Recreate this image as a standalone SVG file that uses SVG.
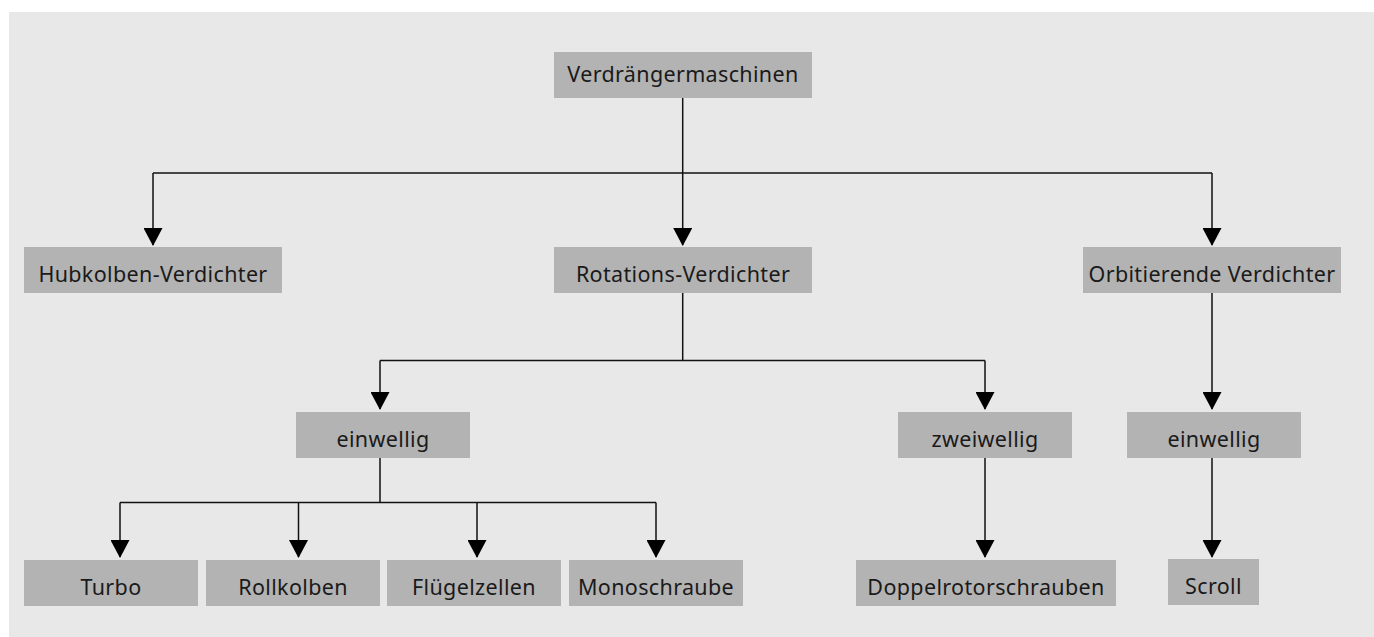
<svg xmlns="http://www.w3.org/2000/svg" width="1374" height="637" viewBox="0 0 1374 637">
  <defs>
    <style>
      .bg { fill: #e8e8e8; }
      .box { fill: #b3b3b3; }
      .lbl { font-family: "Noto Sans", "Liberation Sans", sans-serif; font-size: 21.5px; letter-spacing: 0.35px; fill: #1a1a1a; text-anchor: middle; }
      .wire { fill: none; stroke: #111; stroke-width: 1.5; }
    </style>
    <!-- filled triangle head, tip at the end of the line -->
    <marker id="arrow" viewBox="0 0 18 19" markerWidth="18" markerHeight="19" refX="17" refY="9.5" orient="auto" markerUnits="userSpaceOnUse">
      <path d="M0,0 L18,9.5 L0,19 Z" fill="#000"/>
    </marker>
  </defs>

  <rect class="bg" x="9" y="12" width="1365" height="625"/>

  <!-- connectors -->
  <g id="connectors">
    <path class="wire" d="M682.7,98 V173"/>
    <path class="wire" d="M153,173 H1212"/>
    <path class="wire" d="M153,173 V245" marker-end="url(#arrow)"/>
    <path class="wire" d="M682.7,173 V245" marker-end="url(#arrow)"/>
    <path class="wire" d="M1212,173 V245" marker-end="url(#arrow)"/>

    <path class="wire" d="M682.7,293 V360.5"/>
    <path class="wire" d="M380,360.5 H985"/>
    <path class="wire" d="M380,360.5 V409" marker-end="url(#arrow)"/>
    <path class="wire" d="M985,360.5 V409" marker-end="url(#arrow)"/>
    <path class="wire" d="M1212,293 V409" marker-end="url(#arrow)"/>

    <path class="wire" d="M380,458 V502.5"/>
    <path class="wire" d="M120,502.5 H656"/>
    <path class="wire" d="M120,502.5 V557" marker-end="url(#arrow)"/>
    <path class="wire" d="M298.5,502.5 V557" marker-end="url(#arrow)"/>
    <path class="wire" d="M477,502.5 V557" marker-end="url(#arrow)"/>
    <path class="wire" d="M656,502.5 V557" marker-end="url(#arrow)"/>

    <path class="wire" d="M985,458 V557" marker-end="url(#arrow)"/>
    <path class="wire" d="M1212,458 V557" marker-end="url(#arrow)"/>
  </g>

  <!-- nodes -->
  <g id="verdraengermaschinen">
    <rect class="box" x="554" y="52" width="258" height="46"/>
    <text class="lbl" x="683" y="82">Verdrängermaschinen</text>
  </g>
  <g id="hubkolben">
    <rect class="box" x="24" y="247" width="258" height="46"/>
    <text class="lbl" x="153" y="281.5">Hubkolben-Verdichter</text>
  </g>
  <g id="rotations">
    <rect class="box" x="554" y="247" width="258" height="46"/>
    <text class="lbl" x="683" y="281.5">Rotations-Verdichter</text>
  </g>
  <g id="orbitierende">
    <rect class="box" x="1083" y="247" width="258" height="46"/>
    <text class="lbl" x="1212" y="281.5">Orbitierende Verdichter</text>
  </g>
  <g id="einwellig-rot">
    <rect class="box" x="296" y="412" width="174" height="46"/>
    <text class="lbl" x="383" y="446.5">einwellig</text>
  </g>
  <g id="zweiwellig">
    <rect class="box" x="898" y="412" width="174" height="46"/>
    <text class="lbl" x="985" y="446.5">zweiwellig</text>
  </g>
  <g id="einwellig-orb">
    <rect class="box" x="1127" y="412" width="174" height="46"/>
    <text class="lbl" x="1214" y="446.5">einwellig</text>
  </g>
  <g id="turbo">
    <rect class="box" x="24" y="560" width="174" height="46"/>
    <text class="lbl" x="111" y="594.5">Turbo</text>
  </g>
  <g id="rollkolben">
    <rect class="box" x="206" y="560" width="174" height="46"/>
    <text class="lbl" x="293" y="594.5">Rollkolben</text>
  </g>
  <g id="fluegelzellen">
    <rect class="box" x="387" y="560" width="174" height="46"/>
    <text class="lbl" x="474" y="594.5">Flügelzellen</text>
  </g>
  <g id="monoschraube">
    <rect class="box" x="569" y="560" width="174" height="46"/>
    <text class="lbl" x="656" y="594.5">Monoschraube</text>
  </g>
  <g id="doppelrotorschrauben">
    <rect class="box" x="856" y="560" width="260" height="46"/>
    <text class="lbl" x="986" y="594.5">Doppelrotorschrauben</text>
  </g>
  <g id="scroll">
    <rect class="box" x="1168" y="559" width="91" height="46"/>
    <text class="lbl" x="1213.5" y="593.5">Scroll</text>
  </g>
</svg>
